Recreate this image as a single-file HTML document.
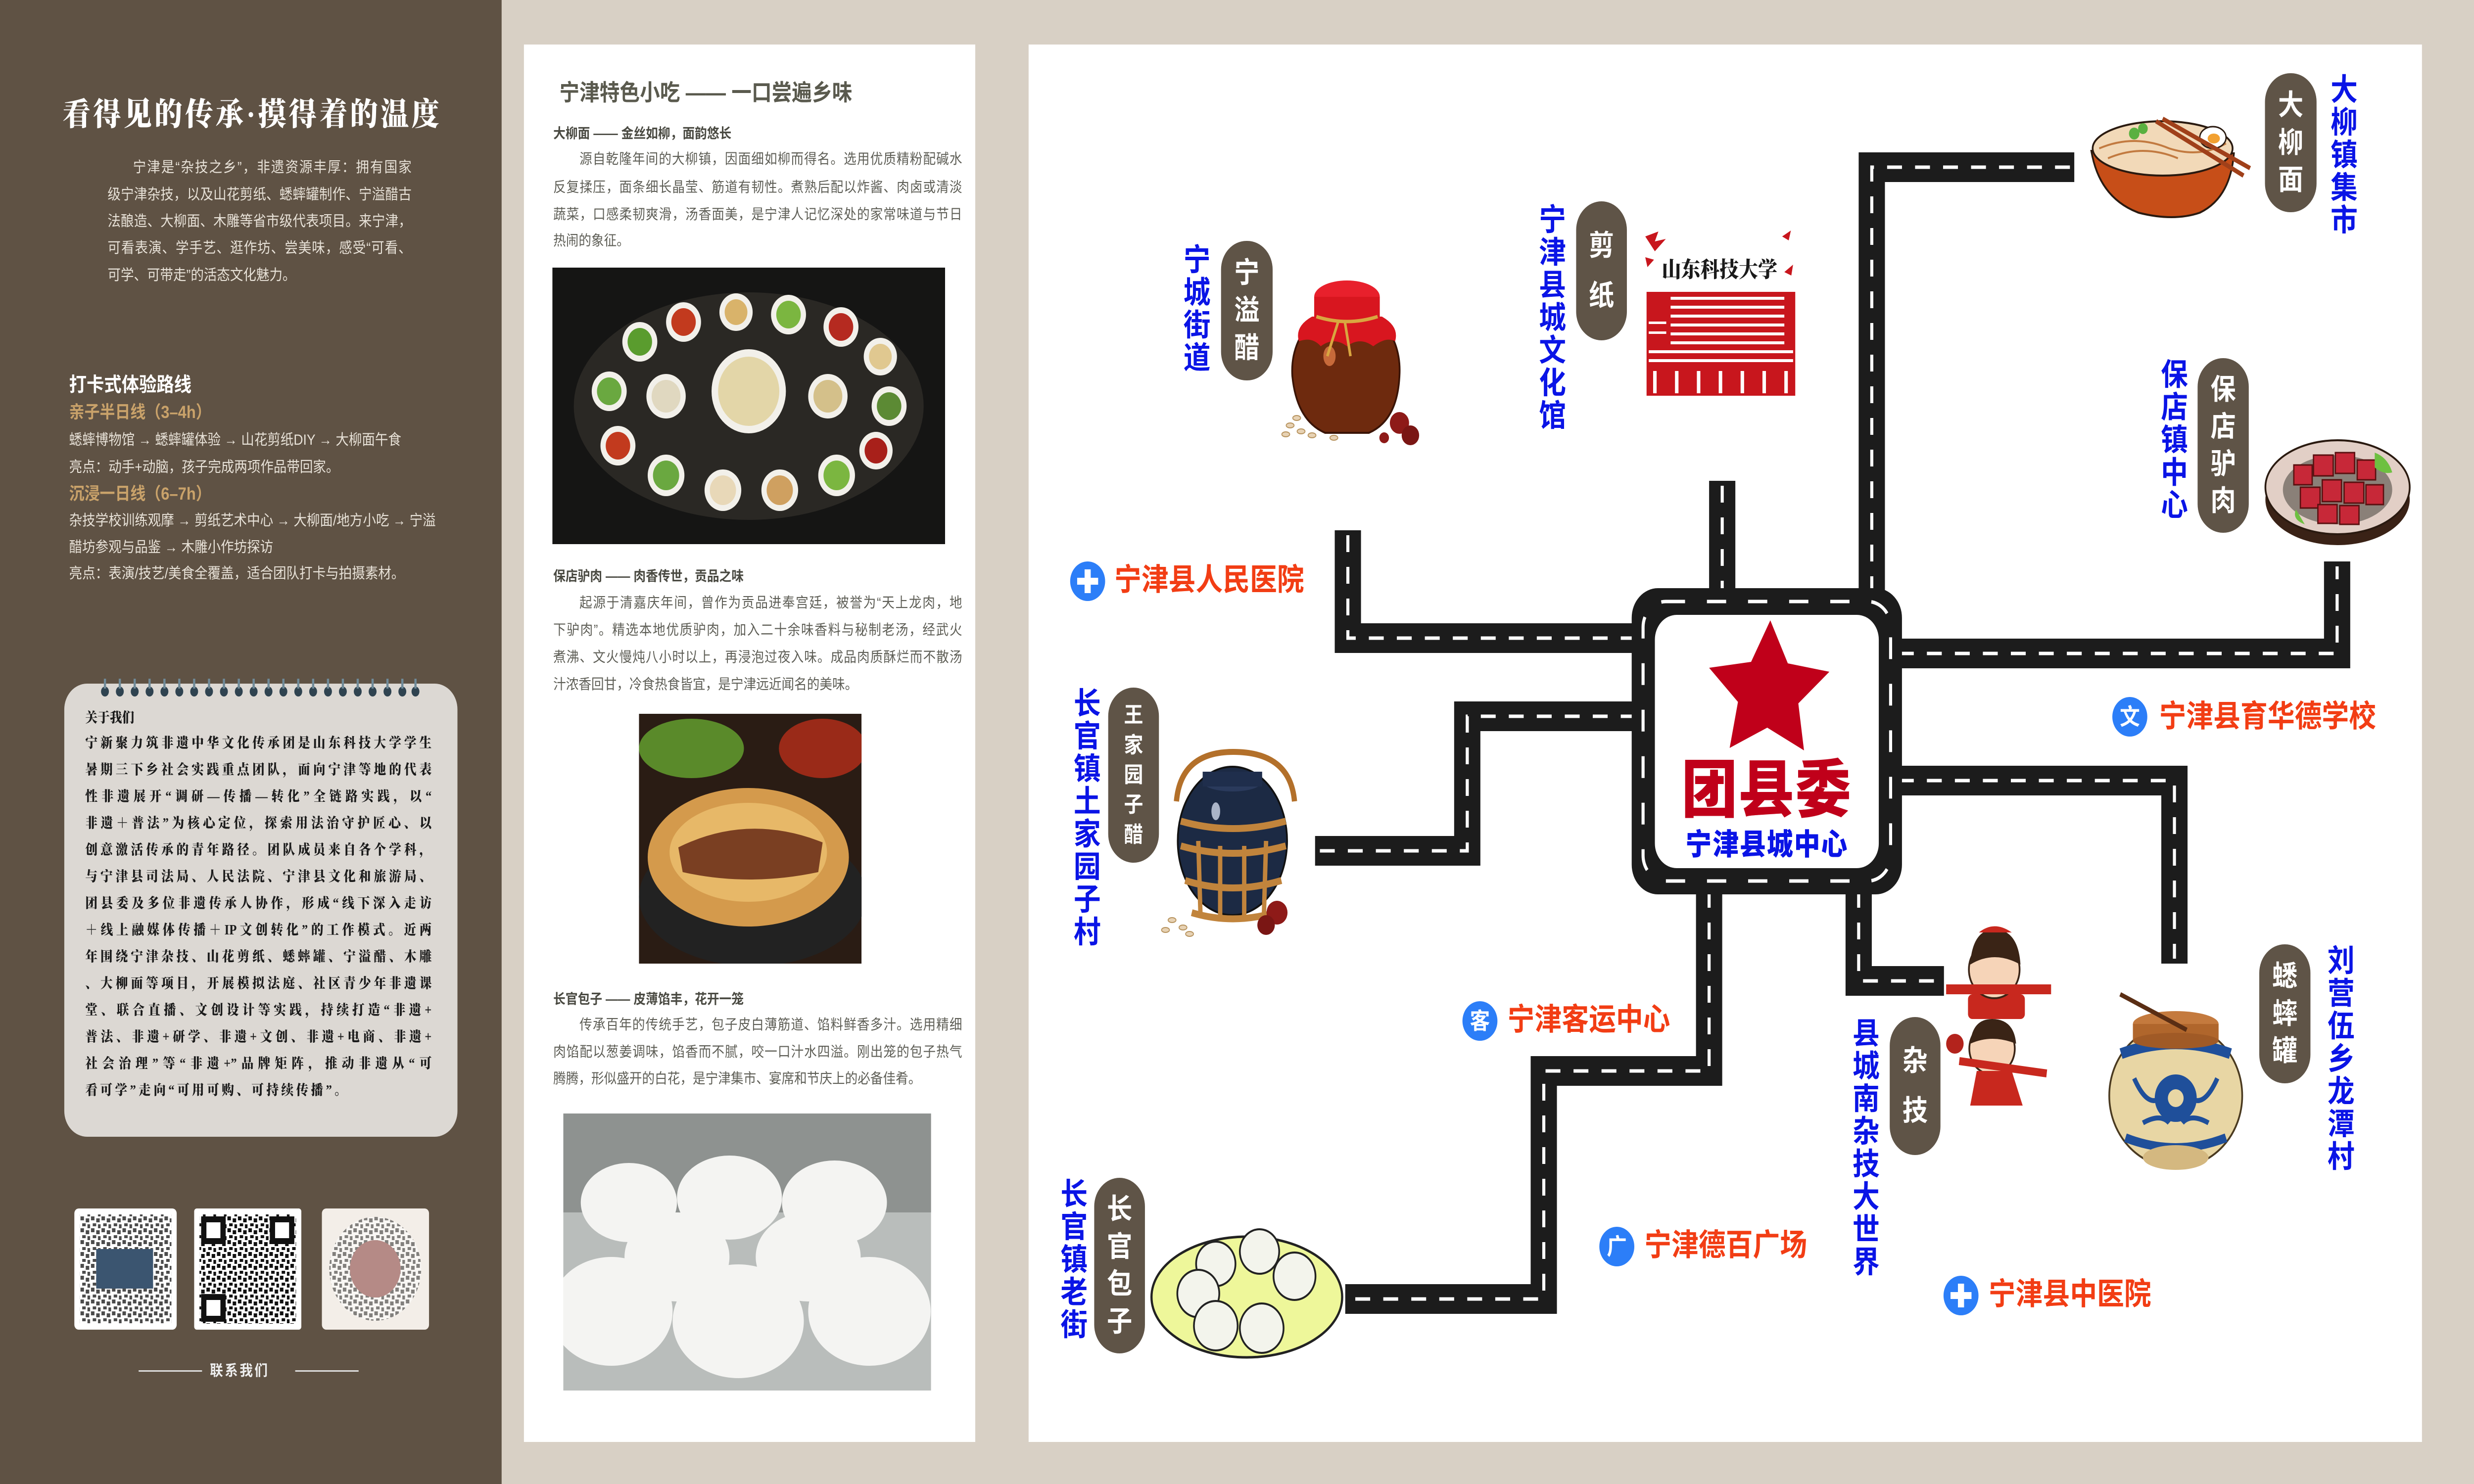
<!DOCTYPE html>
<html><head><meta charset="utf-8">
<style>
*{margin:0;padding:0;box-sizing:border-box}
html,body{overflow:hidden;background:#d8d0c5}
#pg{width:5657px;height:3000px;position:absolute;left:0;top:0;transform-origin:0 0;background:#d8d0c5;font-family:"Liberation Sans","Noto Sans CJK SC",sans-serif;overflow:hidden}
.a{position:absolute;white-space:nowrap;line-height:1}
.j{position:absolute;line-height:1;text-align:justify;text-align-last:justify;white-space:nowrap}
.v{position:absolute;writing-mode:vertical-rl;text-orientation:upright;line-height:1;font-weight:700;color:#0a14e6;font-size:62px;letter-spacing:4px}
.pill{position:absolute;background:#5f5447;border-radius:58px;display:flex;flex-direction:column;align-items:center;justify-content:space-evenly;color:#fff;font-weight:700;line-height:1;padding:18px 0}
.or{position:absolute;color:#f23d14;font-weight:700;font-size:62px;line-height:1;white-space:nowrap}
.lp{color:#e8e2d8;font-size:30px}
.nb{font-family:"Liberation Serif","Noto Serif CJK SC",serif;font-weight:900;font-size:28px;color:#1b1b1b}
.mb{color:#5e5e56;font-size:29px}
.mh{color:#4a4a42;font-size:28px;font-weight:700}
</style></head><body>
<div id="pg">
<div style="position:absolute;left:0;top:0;width:1147px;height:3000px;background:#5f5244"></div>
<div class="a" style="left:143px;top:200px;font-size:64px;color:#fff;font-weight:900;letter-spacing:6px;font-family:'Liberation Serif','Noto Serif CJK SC',serif">看得见的传承·摸得着的温度</div>
<div class="j lp" style="left:246px;top:324px;width:695px;padding-left:58px">宁津是“杂技之乡”，非遗资源丰厚：拥有国家</div>
<div class="j lp" style="left:246px;top:379px;width:695px">级宁津杂技，以及山花剪纸、蟋蟀罐制作、宁溢醋古</div>
<div class="j lp" style="left:246px;top:433px;width:695px">法酿造、大柳面、木雕等省市级代表项目。来宁津，</div>
<div class="j lp" style="left:246px;top:487px;width:695px">可看表演、学手艺、逛作坊、尝美味，感受“可看、</div>
<div class="a lp" style="left:246px;top:542px">可学、可带走”的活态文化魅力。</div>
<div class="a" style="left:158px;top:758px;font-size:40px;font-weight:700;color:#fff">打卡式体验路线</div>
<div class="a" style="left:158px;top:816px;font-size:35px;font-weight:700;color:#c9a26a">亲子半日线（3–4h）</div>
<div class="a lp" style="left:158px;top:875px">蟋蟀博物馆 → 蟋蟀罐体验 → 山花剪纸DIY → 大柳面午食</div>
<div class="a lp" style="left:158px;top:930px">亮点：动手+动脑，孩子完成两项作品带回家。</div>
<div class="a" style="left:158px;top:981px;font-size:35px;font-weight:700;color:#c9a26a">沉浸一日线（6–7h）</div>
<div class="a lp" style="left:158px;top:1038px">杂技学校训练观摩 → 剪纸艺术中心 → 大柳面/地方小吃 → 宁溢</div>
<div class="a lp" style="left:158px;top:1092px">醋坊参观与品鉴 → 木雕小作坊探访</div>
<div class="a lp" style="left:158px;top:1145px">亮点：表演/技艺/美食全覆盖，适合团队打卡与拍摄素材。</div>
<div style="position:absolute;left:147px;top:1382px;width:899px;height:916px;background:#dcd8d3;border-radius:52px"></div>
<svg class="a" style="left:0;top:0" width="1147" height="1440">
<g fill="#2f4350">
<ellipse cx="240" cy="1398" rx="9" ry="10"/><ellipse cx="274" cy="1398" rx="9" ry="10"/><ellipse cx="308" cy="1398" rx="9" ry="10"/><ellipse cx="342" cy="1398" rx="9" ry="10"/><ellipse cx="376" cy="1398" rx="9" ry="10"/><ellipse cx="410" cy="1398" rx="9" ry="10"/><ellipse cx="444" cy="1398" rx="9" ry="10"/><ellipse cx="478" cy="1398" rx="9" ry="10"/><ellipse cx="512" cy="1398" rx="9" ry="10"/><ellipse cx="546" cy="1398" rx="9" ry="10"/><ellipse cx="580" cy="1398" rx="9" ry="10"/><ellipse cx="614" cy="1398" rx="9" ry="10"/><ellipse cx="648" cy="1398" rx="9" ry="10"/><ellipse cx="682" cy="1398" rx="9" ry="10"/><ellipse cx="716" cy="1398" rx="9" ry="10"/><ellipse cx="750" cy="1398" rx="9" ry="10"/><ellipse cx="784" cy="1398" rx="9" ry="10"/><ellipse cx="818" cy="1398" rx="9" ry="10"/><ellipse cx="852" cy="1398" rx="9" ry="10"/><ellipse cx="886" cy="1398" rx="9" ry="10"/><ellipse cx="920" cy="1398" rx="9" ry="10"/><ellipse cx="950" cy="1398" rx="9" ry="10"/>
</g>
<g stroke="#6f8a98" stroke-width="5" fill="none">
<path d="M240 1372v20M274 1372v20M308 1372v20M342 1372v20M376 1372v20M410 1372v20M444 1372v20M478 1372v20M512 1372v20M546 1372v20M580 1372v20M614 1372v20M648 1372v20M682 1372v20M716 1372v20M750 1372v20M784 1372v20M818 1372v20M852 1372v20M886 1372v20M920 1372v20M950 1372v20"/>
</g></svg>
<div class="a nb" style="left:195px;top:1438px">关于我们</div>
<div class="j nb" style="left:195px;top:1489px;width:792px">宁新聚力筑非遗中华文化传承团是山东科技大学学生</div>
<div class="j nb" style="left:195px;top:1543px;width:792px">暑期三下乡社会实践重点团队，面向宁津等地的代表</div>
<div class="j nb" style="left:195px;top:1597px;width:792px">性非遗展开“调研—传播—转化”全链路实践，以“</div>
<div class="j nb" style="left:195px;top:1651px;width:792px">非遗＋普法”为核心定位，探索用法治守护匠心、以</div>
<div class="j nb" style="left:195px;top:1705px;width:792px">创意激活传承的青年路径。团队成员来自各个学科，</div>
<div class="j nb" style="left:195px;top:1759px;width:792px">与宁津县司法局、人民法院、宁津县文化和旅游局、</div>
<div class="j nb" style="left:195px;top:1813px;width:792px">团县委及多位非遗传承人协作，形成“线下深入走访</div>
<div class="j nb" style="left:195px;top:1867px;width:792px">＋线上融媒体传播＋IP文创转化”的工作模式。近两</div>
<div class="j nb" style="left:195px;top:1921px;width:792px">年围绕宁津杂技、山花剪纸、蟋蟀罐、宁溢醋、木雕</div>
<div class="j nb" style="left:195px;top:1975px;width:792px">、大柳面等项目，开展模拟法庭、社区青少年非遗课</div>
<div class="j nb" style="left:195px;top:2029px;width:792px">堂、联合直播、文创设计等实践，持续打造“非遗+</div>
<div class="j nb" style="left:195px;top:2083px;width:792px">普法、非遗+研学、非遗+文创、非遗+电商、非遗+</div>
<div class="j nb" style="left:195px;top:2137px;width:792px">社会治理”等“非遗+”品牌矩阵，推动非遗从“可</div>
<div class="a nb" style="left:195px;top:2191px;letter-spacing:6px">看可学”走向“可用可购、可持续传播”。</div>
<svg class="a" style="left:160px;top:2435px" width="830" height="265">
<defs><pattern id="qr" width="24" height="24" patternUnits="userSpaceOnUse"><rect width="24" height="24" fill="#fff"/><rect x="0" y="0" width="8" height="8" fill="#111"/><rect x="12" y="4" width="8" height="8" fill="#111"/><rect x="4" y="14" width="8" height="6" fill="#111"/><rect x="16" y="16" width="6" height="8" fill="#111"/></pattern></defs>
<rect x="10" y="8" width="234" height="245" rx="10" fill="#fff"/>
<rect x="22" y="20" width="210" height="220" fill="url(#qr)" opacity=".75"/>
<rect x="60" y="90" width="130" height="80" fill="#3b5570"/>
<rect x="284" y="8" width="245" height="245" rx="6" fill="#fff"/>
<rect x="296" y="20" width="221" height="221" fill="url(#qr)"/>
<rect x="300" y="24" width="56" height="56" fill="#111"/><rect x="312" y="36" width="32" height="32" fill="#fff"/>
<rect x="457" y="24" width="56" height="56" fill="#111"/><rect x="469" y="36" width="32" height="32" fill="#fff"/>
<rect x="300" y="181" width="56" height="56" fill="#111"/><rect x="312" y="193" width="32" height="32" fill="#fff"/>
<rect x="576" y="8" width="245" height="245" rx="10" fill="#f3eee8"/>
<circle cx="698" cy="130" r="105" fill="url(#qr)" opacity=".5"/>
<circle cx="698" cy="130" r="58" fill="#b58a86"/>
</svg>
<div style="position:absolute;left:317px;top:2770px;width:145px;height:3px;background:#ddd"></div>
<div style="position:absolute;left:675px;top:2770px;width:145px;height:3px;background:#ddd"></div>
<div class="a" style="left:480px;top:2757px;font-size:30px;color:#eee;font-weight:700;letter-spacing:4px">联系我们</div>

<div style="position:absolute;left:1198px;top:90px;width:1032px;height:2825px;background:#fff"></div>
<div class="a" style="left:1279px;top:164px;font-size:46px;font-weight:700;color:#5a5a4e">宁津特色小吃 —— 一口尝遍乡味</div>
<div class="a mh" style="left:1265px;top:256px">大柳面 —— 金丝如柳，面韵悠长</div>
<div class="j mb" style="left:1265px;top:308px;width:935px;padding-left:60px">源自乾隆年间的大柳镇，因面细如柳而得名。选用优质精粉配碱水</div>
<div class="j mb" style="left:1265px;top:365px;width:935px">反复揉压，面条细长晶莹、筋道有韧性。煮熟后配以炸酱、肉卤或清淡</div>
<div class="j mb" style="left:1265px;top:420px;width:935px">蔬菜，口感柔韧爽滑，汤香面美，是宁津人记忆深处的家常味道与节日</div>
<div class="a mb" style="left:1265px;top:473px">热闹的象征。</div>
<svg class="a" style="left:1263px;top:541px" width="898" height="559">
<rect width="898" height="559" fill="#151514"/>
<ellipse cx="449" cy="280" rx="400" ry="230" fill="#2a2824"/>
<g fill="#f2f0ea"><circle cx="449" cy="250" r="85"/><circle cx="200" cy="150" r="40"/><circle cx="300" cy="110" r="40"/><circle cx="420" cy="90" r="38"/><circle cx="540" cy="95" r="40"/><circle cx="660" cy="120" r="40"/><circle cx="750" cy="180" r="38"/><circle cx="130" cy="250" r="40"/><circle cx="770" cy="280" r="40"/><circle cx="150" cy="360" r="40"/><circle cx="260" cy="420" r="42"/><circle cx="390" cy="450" r="42"/><circle cx="520" cy="450" r="42"/><circle cx="650" cy="420" r="42"/><circle cx="740" cy="370" r="38"/><circle cx="260" cy="260" r="45"/><circle cx="630" cy="260" r="45"/></g>
<g><circle cx="449" cy="250" r="70" fill="#e3d6a8"/><circle cx="200" cy="150" r="28" fill="#5a9c2e"/><circle cx="300" cy="110" r="28" fill="#c23a1e"/><circle cx="420" cy="90" r="26" fill="#d9b36a"/><circle cx="540" cy="95" r="28" fill="#7bb640"/><circle cx="660" cy="120" r="28" fill="#b52a20"/><circle cx="750" cy="180" r="26" fill="#e0c890"/><circle cx="130" cy="250" r="28" fill="#6aa840"/><circle cx="770" cy="280" r="28" fill="#5c8a34"/><circle cx="150" cy="360" r="28" fill="#c23a1e"/><circle cx="260" cy="420" r="30" fill="#6aa840"/><circle cx="390" cy="450" r="30" fill="#e8d8b8"/><circle cx="520" cy="450" r="30" fill="#cfa060"/><circle cx="650" cy="420" r="30" fill="#7bb640"/><circle cx="740" cy="370" r="26" fill="#a8201a"/><circle cx="260" cy="260" r="33" fill="#e0d8c0"/><circle cx="630" cy="260" r="33" fill="#d4c08a"/></g>
</svg>
<div class="a mh" style="left:1265px;top:1151px">保店驴肉 —— 肉香传世，贡品之味</div>
<div class="j mb" style="left:1265px;top:1205px;width:935px;padding-left:60px">起源于清嘉庆年间，曾作为贡品进奉宫廷，被誉为“天上龙肉，地</div>
<div class="j mb" style="left:1265px;top:1260px;width:935px">下驴肉”。精选本地优质驴肉，加入二十余味香料与秘制老汤，经武火</div>
<div class="j mb" style="left:1265px;top:1315px;width:935px">煮沸、文火慢炖八小时以上，再浸泡过夜入味。成品肉质酥烂而不散汤</div>
<div class="a mb" style="left:1265px;top:1370px">汁浓香回甘，冷食热食皆宜，是宁津远近闻名的美味。</div>
<svg class="a" style="left:1461px;top:1443px" width="509" height="505">
<rect width="509" height="505" fill="#2a1c14"/>
<ellipse cx="120" cy="70" rx="120" ry="60" fill="#5a8a2a"/>
<ellipse cx="420" cy="70" rx="100" ry="60" fill="#9a2a18"/>
<ellipse cx="260" cy="370" rx="260" ry="140" fill="#222"/>
<ellipse cx="250" cy="290" rx="230" ry="140" fill="#d49a4c"/>
<ellipse cx="250" cy="280" rx="180" ry="100" fill="#e7b868"/>
<path d="M90 270 Q250 200 420 260 L410 320 Q250 350 100 320Z" fill="#7a3f22"/>
</svg>
<div class="a mh" style="left:1265px;top:2006px">长官包子 —— 皮薄馅丰，花开一笼</div>
<div class="j mb" style="left:1265px;top:2058px;width:935px;padding-left:60px">传承百年的传统手艺，包子皮白薄筋道、馅料鲜香多汁。选用精细</div>
<div class="j mb" style="left:1265px;top:2113px;width:935px">肉馅配以葱姜调味，馅香而不腻，咬一口汁水四溢。刚出笼的包子热气</div>
<div class="a mb" style="left:1265px;top:2167px">腾腾，形似盛开的白花，是宁津集市、宴席和节庆上的必备佳肴。</div>
<svg class="a" style="left:1288px;top:2251px" width="841" height="560">
<rect width="841" height="560" fill="#b9bdbb"/>
<rect width="841" height="200" fill="#8e9290"/>
<g fill="#f4f4f2"><ellipse cx="150" cy="180" rx="110" ry="80"/><ellipse cx="380" cy="170" rx="120" ry="85"/><ellipse cx="620" cy="180" rx="120" ry="85"/><ellipse cx="110" cy="400" rx="140" ry="110"/><ellipse cx="400" cy="420" rx="150" ry="115"/><ellipse cx="700" cy="400" rx="140" ry="110"/><ellipse cx="260" cy="290" rx="120" ry="90"/><ellipse cx="560" cy="290" rx="120" ry="90"/></g>
</svg>

<div style="position:absolute;left:2352px;top:90px;width:3186px;height:2825px;background:#fff"></div>
<svg class="a" style="left:0;top:0" width="5657" height="3000">
<g fill="none" stroke="#1c1c1c" stroke-width="60" stroke-linejoin="miter">
<polyline points="3082,1072 3082,1290 3760,1290"/>
<polyline points="3938,972 3938,1215"/>
<polyline points="4743,338 4280,338 4280,1215"/>
<polyline points="4322,1321 5344,1321 5344,1135"/>
<polyline points="4322,1578 4972,1578 4972,1948"/>
<polyline points="4250,1781 4250,1983 4445,1983"/>
<polyline points="3908,1781 3908,2165 3530,2165 3530,2626 3076,2626"/>
<polyline points="3760,1448 3355,1448 3355,1720 3007,1720"/>
</g>
<g fill="none" stroke="#fff" stroke-width="7" stroke-dasharray="34 30">
<polyline points="3082,1082 3082,1290 3740,1290"/>
<polyline points="3938,982 3938,1195"/>
<polyline points="4733,338 4280,338 4280,1195"/>
<polyline points="4342,1321 5344,1321 5344,1145"/>
<polyline points="4342,1578 4972,1578 4972,1938"/>
<polyline points="4250,1801 4250,1983 4435,1983"/>
<polyline points="3908,1801 3908,2165 3530,2165 3530,2626 3086,2626"/>
<polyline points="3740,1448 3355,1448 3355,1720 3017,1720"/>
</g>
<rect x="3731" y="1189" width="618" height="619" rx="60" fill="#1c1c1c"/>
<rect x="3757" y="1216" width="566" height="565" rx="52" fill="none" stroke="#fff" stroke-width="7" stroke-dasharray="44 50"/>
<rect x="3784" y="1243" width="512" height="512" rx="50" fill="#fff"/>
<polygon points="4048,1254 4088,1341 4183,1358 4112,1422 4125,1517 4041,1471 3955,1512 3974,1419 3908,1350 4004,1338" fill="#c0001a"/>
<g>
<g fill="#e7d2b4" stroke="#b7935e" stroke-width="2"><ellipse cx="2950" cy="860" rx="9" ry="5"/><ellipse cx="2975" cy="872" rx="9" ry="5"/><ellipse cx="3000" cy="880" rx="9" ry="5"/><ellipse cx="2965" cy="845" rx="9" ry="5"/><ellipse cx="3020" cy="865" rx="9" ry="5"/><ellipse cx="2940" cy="878" rx="9" ry="5"/><ellipse cx="3050" cy="885" rx="9" ry="5"/></g>
<path d="M3010 640 Q2950 690 2955 760 Q2965 850 3030 875 L3130 875 Q3195 850 3200 760 Q3205 690 3150 640Z" fill="#6e2a0e" stroke="#3a1406" stroke-width="4"/>
<ellipse cx="3040" cy="720" rx="14" ry="20" fill="#c76a3a"/>
<path d="M3000 640 Q2960 660 2970 690 Q3000 680 3020 700 Q3050 680 3080 700 Q3110 680 3140 700 Q3170 680 3190 690 Q3200 660 3160 640Z" fill="#d8161f"/>
<ellipse cx="3080" cy="600" rx="75" ry="33" fill="#e8202c"/>
<rect x="3005" y="600" width="150" height="42" fill="#d8161f"/>
<path d="M3010 640 Q3080 660 3150 640" stroke="#d9a640" stroke-width="7" fill="none"/>
<path d="M3060 650 L3035 720 M3075 650 L3088 720" stroke="#d9a640" stroke-width="6"/>
<circle cx="3200" cy="855" r="22" fill="#8e1a18"/><circle cx="3225" cy="880" r="20" fill="#7a1614"/><circle cx="3165" cy="885" r="11" fill="#8e1a18"/>
</g>
<g>
<rect x="3765" y="590" width="340" height="210" fill="#c8161d"/>
<g fill="#fff">
<rect x="3820" y="600" width="260" height="6"/><rect x="3820" y="618" width="260" height="6"/><rect x="3820" y="636" width="260" height="6"/><rect x="3820" y="654" width="260" height="6"/><rect x="3820" y="672" width="260" height="6"/><rect x="3820" y="690" width="260" height="6"/><rect x="3770" y="708" width="330" height="6"/><rect x="3770" y="726" width="330" height="6"/>
<rect x="3770" y="650" width="40" height="5"/><rect x="3770" y="670" width="40" height="5"/>
<rect x="3780" y="750" width="8" height="45"/><rect x="3830" y="750" width="8" height="45"/><rect x="3880" y="750" width="8" height="45"/><rect x="3930" y="750" width="8" height="45"/><rect x="3980" y="750" width="8" height="45"/><rect x="4030" y="750" width="8" height="45"/><rect x="4080" y="750" width="8" height="45"/>
</g>
<path d="M3762 478 l30 -10 -8 20 25 -5 -25 25z M3762 520 l20 5 -15 15z M4075 478 l20 -12 -5 20z M4080 550 l20 -15 -4 22z" fill="#c8161d"/>
<text x="3800" y="560" font-family="Liberation Serif,Noto Serif CJK SC,serif" font-weight="900" font-size="44" fill="#1a1a1a">山东科技大学</text>
</g>
<g>
<path d="M4782 305 Q4800 400 4890 430 Q4970 448 5030 430 Q5100 400 5108 310Z" fill="#c74e18" stroke="#2a1a10" stroke-width="4"/>
<ellipse cx="4945" cy="300" rx="160" ry="55" fill="#f2d9b8" stroke="#2a1a10" stroke-width="4"/>
<path d="M4800 300 Q4880 270 4960 300 Q5030 320 5090 290 M4820 320 Q4900 290 4980 320" stroke="#c27a40" stroke-width="4" fill="none"/>
<circle cx="4880" cy="270" r="12" fill="#5ab040"/><circle cx="4900" cy="260" r="11" fill="#5ab040"/>
<ellipse cx="5060" cy="278" rx="30" ry="22" fill="#fff" stroke="#2a1a10" stroke-width="3"/><ellipse cx="5062" cy="280" rx="14" ry="10" fill="#f2a030"/>
<line x1="4930" y1="245" x2="5130" y2="355" stroke="#a0401a" stroke-width="9"/>
<line x1="4945" y1="240" x2="5145" y2="340" stroke="#a0401a" stroke-width="9"/>
</g>
<g>
<ellipse cx="5345" cy="1010" rx="165" ry="92" fill="#3a2216"/>
<ellipse cx="5345" cy="985" rx="165" ry="95" fill="#e2cfc6" stroke="#2a1a10" stroke-width="4"/>
<ellipse cx="5345" cy="990" rx="125" ry="70" fill="#8a8078"/>
<g fill="#c72838" stroke="#5a1010" stroke-width="3"><rect x="5245" y="940" width="42" height="40"/><rect x="5290" y="920" width="45" height="42"/><rect x="5340" y="915" width="44" height="42"/><rect x="5390" y="930" width="42" height="40"/><rect x="5260" y="985" width="45" height="42"/><rect x="5310" y="970" width="44" height="44"/><rect x="5360" y="975" width="45" height="42"/><rect x="5410" y="980" width="40" height="40"/><rect x="5300" y="1020" width="44" height="38"/><rect x="5350" y="1022" width="44" height="38"/></g>
<path d="M5430 915 q30 10 40 40 q-20 5 -40 -10z M5250 1030 q-10 20 20 30z" fill="#6ec040"/>
</g>
<g>
<path d="M2690 1620 Q2700 1520 2820 1520 Q2950 1520 2960 1620" stroke="#b3702a" stroke-width="12" fill="none"/>
<ellipse cx="2818" cy="1700" rx="125" ry="150" fill="#1c2a44" stroke="#111" stroke-width="4"/>
<ellipse cx="2818" cy="1580" rx="68" ry="20" fill="#2a3a5c"/><rect x="2750" y="1560" width="136" height="30" fill="#1f2e4c"/>
<ellipse cx="2780" cy="1640" rx="10" ry="18" fill="#aab4c8"/>
<g fill="none" stroke="#c1843c" stroke-width="14"><path d="M2700 1710 Q2818 1740 2940 1710"/><path d="M2710 1780 Q2818 1810 2930 1780"/><path d="M2725 1845 Q2818 1870 2915 1845"/><path d="M2700 1660 Q2818 1690 2940 1660"/></g>
<g stroke="#c1843c" stroke-width="10"><line x1="2740" y1="1700" x2="2745" y2="1850"/><line x1="2790" y1="1710" x2="2790" y2="1860"/><line x1="2845" y1="1710" x2="2845" y2="1860"/><line x1="2895" y1="1700" x2="2890" y2="1850"/></g>
<g fill="#e7d2b4" stroke="#b7935e" stroke-width="2"><ellipse cx="2680" cy="1860" rx="9" ry="5"/><ellipse cx="2705" cy="1875" rx="9" ry="5"/><ellipse cx="2665" cy="1880" rx="9" ry="5"/><ellipse cx="2720" cy="1888" rx="9" ry="5"/></g>
<circle cx="2920" cy="1845" r="24" fill="#8e1a18"/><circle cx="2895" cy="1870" r="20" fill="#7a1614"/>
</g>
<g>
<ellipse cx="2851" cy="2622" rx="218" ry="122" fill="#eef79a" stroke="#222" stroke-width="5"/>
<g fill="#f3f4ec" stroke="#222" stroke-width="4"><circle cx="2780" cy="2555" r="45"/><circle cx="2880" cy="2530" r="45"/><circle cx="2740" cy="2615" r="48"/><circle cx="2960" cy="2580" r="48"/><circle cx="2780" cy="2680" r="50"/><circle cx="2885" cy="2685" r="50"/></g>
</g>
<g>
<rect x="4500" y="2010" width="130" height="50" rx="10" fill="#c8281e"/>
<circle cx="4560" cy="1960" r="58" fill="#f6d4b8" stroke="#3a2416" stroke-width="4"/>
<path d="M4505 1950 Q4510 1880 4560 1878 Q4615 1880 4620 1950 Q4560 1920 4505 1950Z" fill="#3a2416"/>
<path d="M4525 1885 Q4560 1860 4600 1885" fill="#c8281e"/>
<line x1="4450" y1="2000" x2="4690" y2="2000" stroke="#c8281e" stroke-width="20"/>
<circle cx="4555" cy="2120" r="52" fill="#f6d4b8" stroke="#3a2416" stroke-width="4"/>
<path d="M4505 2110 Q4510 2060 4555 2060 Q4605 2060 4610 2110 Q4555 2090 4505 2110Z" fill="#3a2416"/>
<path d="M4520 2165 L4600 2165 L4625 2235 L4505 2235Z" fill="#c8281e"/>
<line x1="4480" y1="2145" x2="4680" y2="2170" stroke="#c8281e" stroke-width="16"/>
<circle cx="4470" cy="2110" r="20" fill="#b3231c"/>
</g>
<g>
<ellipse cx="4975" cy="2215" rx="152" ry="145" fill="#e8d6a4" stroke="#4a3a20" stroke-width="4"/>
<path d="M4850 2130 Q4975 2090 5100 2130" stroke="#1f4f9a" stroke-width="22" fill="none"/>
<path d="M4860 2300 Q4975 2340 5090 2300" stroke="#1f4f9a" stroke-width="18" fill="none"/>
<circle cx="4975" cy="2220" r="48" fill="#1f4f9a"/><circle cx="4975" cy="2220" r="18" fill="#e8d6a4"/>
<path d="M4880 2180 q30 60 60 40 M5070 2180 q-30 60 -60 40 M4900 2270 q40 -20 60 0 M5050 2270 q-40 -20 -60 0" stroke="#1f4f9a" stroke-width="10" fill="none"/>
<ellipse cx="4975" cy="2340" rx="75" ry="25" fill="#d4b880"/>
<ellipse cx="4975" cy="2070" rx="98" ry="26" fill="#c47a3e"/><rect x="4877" y="2070" width="196" height="34" fill="#b0662c"/><ellipse cx="4975" cy="2104" rx="98" ry="16" fill="#a05a26"/>
<line x1="4848" y1="2010" x2="5000" y2="2082" stroke="#5a2e14" stroke-width="9"/>
</g>
<g fill="#2c7ef8"><circle cx="2487" cy="1175" r="40"/><circle cx="4870" cy="1449" r="40"/><circle cx="3384" cy="2064" r="40"/><circle cx="3697" cy="2520" r="40"/><circle cx="4484" cy="2619" r="40"/></g>
<g fill="#fff"><rect x="2463" y="1168" width="48" height="14"/><rect x="2480" y="1151" width="14" height="48"/><rect x="4460" y="2612" width="48" height="14"/><rect x="4477" y="2595" width="14" height="48"/></g>
<g fill="#fff" font-weight="700" font-size="46" text-anchor="middle" font-family="Liberation Sans,Noto Sans CJK SC,sans-serif"><text x="4870" y="1465">文</text><text x="3384" y="2080">客</text><text x="3697" y="2536">广</text></g>
</svg>
<div class="a" style="left:3780px;top:1534px;width:520px;text-align:center;font-size:128px;font-weight:900;color:#c0001a;letter-spacing:2px">团县委</div>
<div class="a" style="left:3780px;top:1678px;width:520px;text-align:center;font-size:60px;font-weight:900;color:#0a14e6;letter-spacing:2px">宁津县城中心</div>

<div class="v" style="left:2699px;top:492px">宁城街道</div>
<div class="v" style="left:3512px;top:411px">宁津县城文化馆</div>
<div class="v" style="left:5322px;top:148px">大柳镇集市</div>
<div class="v" style="left:4934px;top:724px">保店镇中心</div>
<div class="v" style="left:2448px;top:1389px">长官镇土家园子村</div>
<div class="v" style="left:2418px;top:2381px">长官镇老街</div>
<div class="v" style="left:4229px;top:2056px">县城南杂技大世界</div>
<div class="v" style="left:5315px;top:1909px">刘营伍乡龙潭村</div>

<div class="pill" style="left:2792px;top:487px;width:118px;height:282px;font-size:58px"><span>宁</span><span>溢</span><span>醋</span></div>
<div class="pill" style="left:3604px;top:407px;width:116px;height:281px;font-size:58px"><span>剪</span><span>纸</span></div>
<div class="pill" style="left:5179px;top:148px;width:118px;height:281px;font-size:58px"><span>大</span><span>柳</span><span>面</span></div>
<div class="pill" style="left:5025px;top:724px;width:117px;height:353px;font-size:58px"><span>保</span><span>店</span><span>驴</span><span>肉</span></div>
<div class="pill" style="left:2534px;top:1390px;width:116px;height:354px;font-size:44px"><span>王</span><span>家</span><span>园</span><span>子</span><span>醋</span></div>
<div class="pill" style="left:2502px;top:2381px;width:116px;height:355px;font-size:58px"><span>长</span><span>官</span><span>包</span><span>子</span></div>
<div class="pill" style="left:4321px;top:2056px;width:116px;height:279px;font-size:58px"><span>杂</span><span>技</span></div>
<div class="pill" style="left:5166px;top:1909px;width:117px;height:281px;font-size:58px"><span>蟋</span><span>蟀</span><span>罐</span></div>

<div class="or" style="left:2548px;top:1142px">宁津县人民医院</div>
<div class="or" style="left:4937px;top:1418px">宁津县育华德学校</div>
<div class="or" style="left:3447px;top:2031px">宁津客运中心</div>
<div class="or" style="left:3760px;top:2487px">宁津德百广场</div>
<div class="or" style="left:4547px;top:2586px">宁津县中医院</div>
</div>
<script>
(function(){var p=document.getElementById('pg');function f(){var w=window.innerWidth||5657,h=window.innerHeight||3000;var sx=w/5657,sy=h/3000;if(Math.abs(sx-1)<0.002&&Math.abs(sy-1)<0.002){p.style.transform='none';}else{p.style.transform='scale('+sx+','+sy+')';}}f();window.addEventListener('resize',f);})();
</script>
</body></html>
